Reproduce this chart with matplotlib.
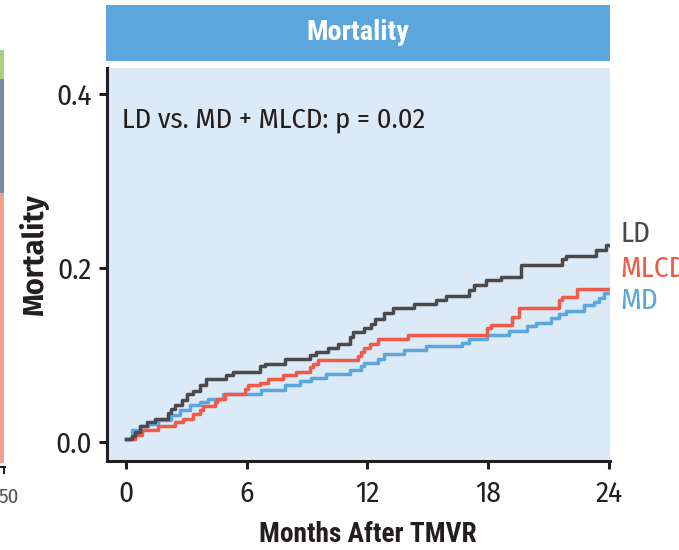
import matplotlib
matplotlib.use('Agg')
import matplotlib.pyplot as plt
from matplotlib.patches import Rectangle
from matplotlib.lines import Line2D

W, H = 679, 550

# Kaplan-Meier style step data (months, cumulative mortality)
ld_t = [0, 0.28, 0.45, 0.69, 1.03, 1.44, 2.10, 2.26, 2.43, 2.76, 3.04, 3.34, 3.67, 3.97,
        4.99, 5.32, 6.64, 6.89, 7.88, 9.12, 9.45, 10.03, 10.53, 11.11, 11.27, 11.85,
        12.18, 12.35, 12.84, 13.25, 14.33, 15.40, 15.90, 17.06, 17.30, 17.88, 18.63,
        19.62, 21.68, 21.85, 23.34, 23.83, 24.0]
ld_v = [0.003, 0.007, 0.012, 0.018, 0.023, 0.026, 0.033, 0.038, 0.043, 0.048, 0.055, 0.059,
        0.066, 0.073, 0.077, 0.080, 0.087, 0.090, 0.095, 0.100, 0.104, 0.108, 0.113, 0.121,
        0.126, 0.131, 0.136, 0.141, 0.148, 0.154, 0.159, 0.163, 0.168, 0.175, 0.180, 0.186,
        0.190, 0.204, 0.210, 0.214, 0.221, 0.226, 0.226]

mlcd_t = [0, 0.45, 0.78, 1.60, 2.43, 2.84, 3.34, 3.67, 3.83, 4.41, 4.50, 4.91, 5.90, 6.07,
          6.64, 7.06, 7.80, 8.46, 9.12, 9.29, 9.54, 11.52, 11.68, 11.85, 12.10, 12.51,
          14.00, 17.96, 18.13, 19.20, 19.53, 21.52, 21.68, 22.43, 24.0]
mlcd_v = [0.004, 0.008, 0.014, 0.018, 0.023, 0.027, 0.032, 0.037, 0.041, 0.046, 0.050, 0.055,
          0.061, 0.065, 0.068, 0.072, 0.077, 0.081, 0.086, 0.090, 0.094, 0.099, 0.104, 0.108,
          0.113, 0.118, 0.123, 0.131, 0.134, 0.144, 0.154, 0.163, 0.167, 0.176, 0.176]

md_t = [0, 0.28, 0.69, 1.11, 1.60, 2.26, 2.68, 3.17, 3.67, 4.08, 4.83, 6.73, 7.88, 8.63,
        9.21, 9.95, 11.11, 11.68, 11.85, 12.51, 12.84, 13.83, 14.91, 16.72, 17.06, 17.96,
        19.04, 19.95, 20.36, 21.10, 21.52, 21.85, 22.76, 23.25, 23.50, 23.75, 24.0]
md_v = [0.004, 0.014, 0.018, 0.021, 0.025, 0.031, 0.037, 0.042, 0.046, 0.050, 0.055, 0.060,
        0.065, 0.070, 0.074, 0.078, 0.083, 0.087, 0.091, 0.096, 0.101, 0.106, 0.110, 0.114,
        0.118, 0.123, 0.128, 0.133, 0.137, 0.142, 0.147, 0.151, 0.157, 0.161, 0.166, 0.171,
        0.171]

x_ticks = [0, 6, 12, 18, 24]
y_ticks = [0.0, 0.2, 0.4]
y_ticklabels = ['0.0', '0.2', '0.4']

C_LD = '#4a4a4c'
C_MLCD = '#f05a47'
C_MD = '#5ba6dc'
C_TXT = '#231f20'

REG = ['Fira Sans Condensed', 'DejaVu Sans']
COND = ['Roboto Condensed', 'DejaVu Sans']
BOLD = ['Fira Sans', 'DejaVu Sans']


def fx(px):
    return px / W


def fy(py):
    return 1 - py / H


fig = plt.figure(figsize=(W / 100, H / 100), dpi=100)

# plot panel
ax = fig.add_axes([fx(107), fy(461), fx(610) - fx(107), fy(68) - fy(461)])
ax.set_facecolor('#dce9f6')
ax.step(md_t, md_v, where='post', color=C_MD, lw=2.5)
ax.step(mlcd_t, mlcd_v, where='post', color=C_MLCD, lw=2.5)
ax.step(ld_t, ld_v, where='post', color=C_LD, lw=2.5)

ax.set_xlim(-0.944, 24.05)
ax.set_ylim(-0.0218, 0.4299)
ax.set_xticks(x_ticks)
ax.set_yticks(y_ticks)
ax.set_yticklabels(y_ticklabels)
for s in ['top', 'right']:
    ax.spines[s].set_visible(False)
for s in ['left', 'bottom']:
    ax.spines[s].set_linewidth(2.2)
    ax.spines[s].set_color(C_TXT)
ax.tick_params(axis='both', length=6, width=2.2, color=C_TXT, labelcolor=C_TXT)
ax.tick_params(axis='x', pad=7)
ax.tick_params(axis='y', pad=5)
for lab in ax.get_xticklabels() + ax.get_yticklabels():
    lab.set_family(REG)
    lab.set_fontsize(21)

ax.text(0.030, 0.868, 'LD vs. MD + MLCD: p = 0.02', transform=ax.transAxes,
        ha='left', va='center', fontsize=20.5, family=REG, color=C_TXT)

# right-side group labels
ax.text(24.55, 0.240, 'LD', ha='left', va='center', fontsize=21, family=REG,
        color=C_LD, clip_on=False)
ax.text(24.55, 0.199, 'MLCD', ha='left', va='center', fontsize=21, family=REG,
        color=C_MLCD, clip_on=False)
ax.text(24.55, 0.163, 'MD', ha='left', va='center', fontsize=21, family=REG,
        color=C_MD, clip_on=False)

# header strip
fig.add_artist(Rectangle((fx(106), fy(61)), fx(610) - fx(106), fy(5) - fy(61),
                         transform=fig.transFigure, facecolor='#5ba6dc', edgecolor='none'))
head = fig.text(fx(358), fy(33), 'Mortality', ha='center', va='center', color='white',
                fontsize=20, fontweight='bold', family=COND)
xlab = fig.text(fx(368), fy(535), 'Months After TMVR', ha='center', va='center',
                color=C_TXT, fontsize=20, fontweight='bold', family=COND)
ylab = fig.text(fx(34), fy(254), 'Mortality', ha='center', va='center', rotation=90,
                color=C_TXT, fontsize=20, fontweight='bold', family=BOLD)

# size the bold labels to the widths seen in the reference
fig.canvas.draw()
r = fig.canvas.get_renderer()
for t, target, horiz in [(head, 103, True), (xlab, 217, True), (ylab, 122, False)]:
    bb = t.get_window_extent(r)
    cur = bb.width if horiz else bb.height
    t.set_fontsize(20 * target / cur)

# edge of neighbouring panel on the left
strip = [(50, 79, '#a9cf7f'), (79, 193, '#7b8aa6'), (193, 463, '#f4a08f')]
for top, bot, col in strip:
    fig.add_artist(Rectangle((0, fy(bot)), fx(4), fy(top) - fy(bot),
                             transform=fig.transFigure, facecolor=col, edgecolor='none'))
fig.add_artist(Line2D([0, fx(4.5)], [fy(467), fy(467)], transform=fig.transFigure,
                      color=C_TXT, lw=1.5))
fig.add_artist(Line2D([fx(4), fx(4)], [fy(467), fy(473)], transform=fig.transFigure,
                      color=C_TXT, lw=1.5))
fig.text(fx(-2), fy(497), '50', ha='left', va='center', color='#555555', fontsize=15,
         family=REG)

fig.savefig('out.png', dpi=100)
